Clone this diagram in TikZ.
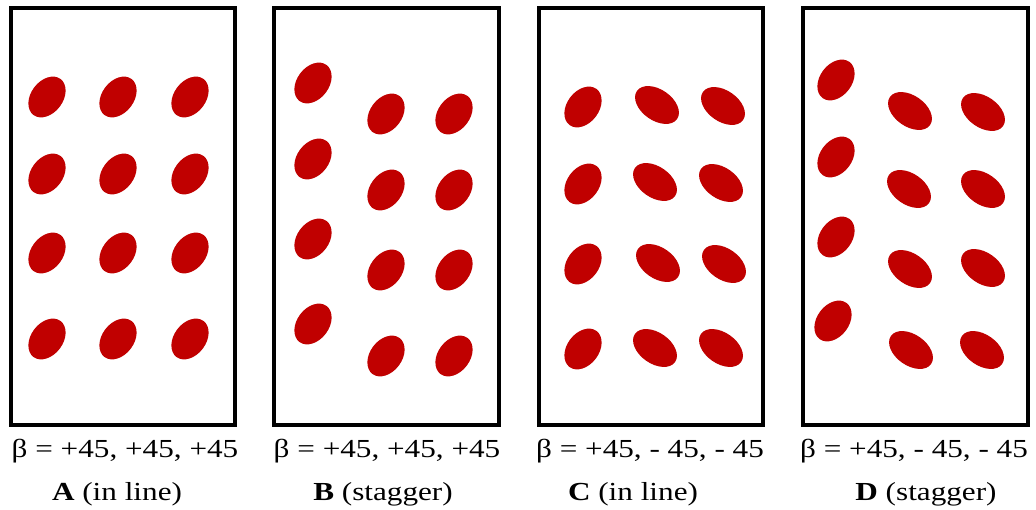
\documentclass[tikz,border=0pt]{standalone}
\usepackage{fontspec}
\setmainfont{Liberation Serif}
\newfontfamily\widefont[FakeStretch=1.2]{Liberation Serif}
\definecolor{cred}{RGB}{192,0,0}
\begin{document}
\begin{tikzpicture}[x=1pt,y=-1pt,
  panel/.style={draw=black, line width=4pt, fill=white},
  dotp/.style={fill=cred},
  lbl/.style={font=\widefont\fontsize{26}{30}\selectfont, inner sep=0pt, anchor=base},
  ttl/.style={font=\widefont\fontsize{26}{30}\selectfont, inner sep=0pt, anchor=base}]
\useasboundingbox (0,0) rectangle (1036,510);
% panels
\draw[panel] (11,8) rectangle (235,425);
\draw[panel] (274,8) rectangle (499,425);
\draw[panel] (539,8) rectangle (763,425);
\draw[panel] (803,8) rectangle (1028,425);
% positive-tilt ellipses
\foreach \x/\y in {
  47/97, 118/97, 190/97,
  47/174, 118/174, 190/174,
  47/253, 118/253, 190/253,
  47/339, 118/339, 190/339,
  313/83, 313/159, 313/239, 313/324,
  386/114, 386/190, 386/270, 386/356,
  454/114, 454/190, 454/270, 454/356,
  583/107, 583/184, 583/264, 583/349,
  836/80, 836/157, 836/237, 833/321}
  \fill[dotp, rotate around={53:(\x,\y)}] (\x,\y) ellipse [x radius=22.5pt, y radius=16pt];
% negative-tilt ellipses
\foreach \x/\y in {
  657/105, 655/182, 658/263, 655/348,
  723/106, 721/183, 724/264, 721/348,
  910/111, 909/189, 910/269, 911/350,
  983/112, 983/189, 983/268, 982/350}
  \fill[dotp, rotate around={-35:(\x,\y)}] (\x,\y) ellipse [x radius=24.5pt, y radius=15.5pt];
% labels
\node[lbl] (la) at (125,457) {β = +45, +45, +45};
\node[lbl] (lb) at (387,457) {β = +45, +45, +45};
\node[lbl] (lc) at (650,457) {β = +45, - 45, - 45};
\node[lbl] (ld) at (914,457) {β = +45, - 45, - 45};
\node[ttl] (ta) at (117,500) {\textbf{A} (in line)};
\node[ttl] (tb) at (383,500) {\textbf{B} (stagger)};
\node[ttl] (tc) at (633,500) {\textbf{C} (in line)};
\node[ttl] (td) at (926,500) {\textbf{D} (stagger)};
\end{tikzpicture}
\end{document}
